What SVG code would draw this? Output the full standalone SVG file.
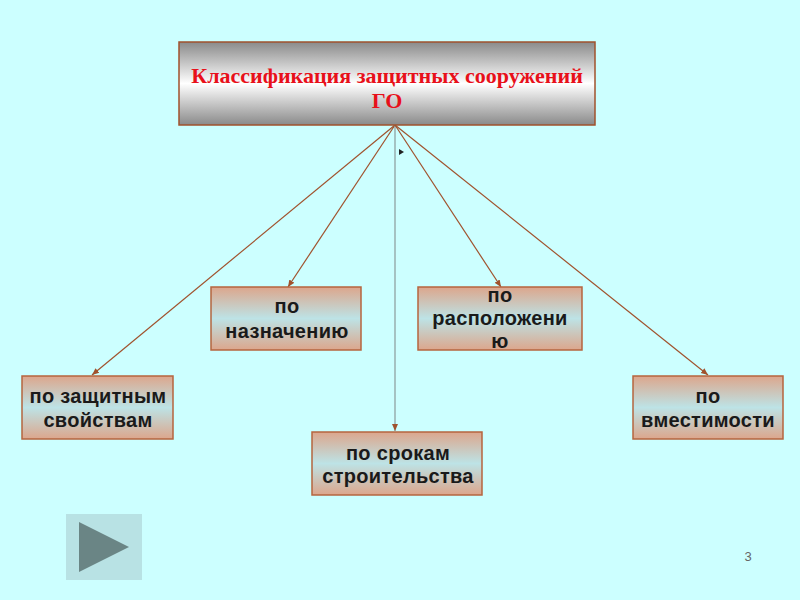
<svg xmlns="http://www.w3.org/2000/svg" width="800" height="600" viewBox="0 0 800 600">
<defs>
<linearGradient id="gTop" x1="0" y1="0" x2="0" y2="1">
<stop offset="0" stop-color="#8a8a8a"/>
<stop offset="0.5" stop-color="#ffffff"/>
<stop offset="1" stop-color="#8a8a8a"/>
</linearGradient>
<linearGradient id="gNode" x1="0" y1="0" x2="0" y2="1">
<stop offset="0" stop-color="#dca68c"/>
<stop offset="0.5" stop-color="#bde3e6"/>
<stop offset="1" stop-color="#dca68c"/>
</linearGradient>
<marker id="arr" markerWidth="8" markerHeight="8" refX="7" refY="4" orient="auto" markerUnits="userSpaceOnUse">
<path d="M0,1 L7,4 L0,7 Z" fill="#a0522d"/>
</marker>
</defs>
<style>
.node rect { fill: url(#gNode); stroke: #b5653f; stroke-width: 1.5; }
.lbl { font-family: "Liberation Sans", Arial, sans-serif; font-weight: bold; font-size: 20px; letter-spacing: 0.3px; fill: #1a1a1a; text-anchor: middle; }
.title { font-family: "Liberation Serif", "Times New Roman", serif; font-weight: bold; font-size: 22px; fill: #e8101a; text-anchor: middle; }
.con { stroke: #a0522d; stroke-width: 1.2; fill: none; marker-end: url(#arr); }
</style>
<rect x="0" y="0" width="800" height="600" fill="#ccffff"/>
<g id="connectors">
<line class="con" x1="395" y1="125" x2="92" y2="375"/>
<line class="con" x1="395" y1="125" x2="288" y2="287"/>
<line class="con" x1="395" y1="125" x2="395" y2="431" style="stroke:#8a9a9a"/>
<line class="con" x1="395" y1="125" x2="501" y2="287"/>
<line class="con" x1="395" y1="125" x2="708" y2="375"/>
<polygon points="399,149 404,152 399,155" fill="#222"/>
</g>
<g id="title">
<rect x="179" y="42" width="416" height="83" fill="url(#gTop)" stroke="#a0522d" stroke-width="1.5"/>
<text class="title" x="387" y="83">Классификация защитных сооружений</text>
<text class="title" x="387" y="108">ГО</text>
</g>
<g id="n1" class="node">
<rect x="22" y="376" width="151" height="63"/>
<text class="lbl" x="98" y="403">по защитным</text>
<text class="lbl" x="98" y="427">свойствам</text>
</g>
<g id="n2" class="node">
<rect x="211" y="287" width="150" height="63"/>
<text class="lbl" x="287" y="313">по</text>
<text class="lbl" x="287" y="338">назначению</text>
</g>
<g id="n3" class="node">
<rect x="418" y="287" width="164" height="63"/>
<text class="lbl" x="500" y="302">по</text>
<text class="lbl" x="500" y="325">расположени</text>
<text class="lbl" x="500" y="348">ю</text>
</g>
<g id="n4" class="node">
<rect x="312" y="432" width="170" height="63"/>
<text class="lbl" x="398" y="460">по срокам</text>
<text class="lbl" x="398" y="483">строительства</text>
</g>
<g id="n5" class="node">
<rect x="633" y="376" width="150" height="63"/>
<text class="lbl" x="708" y="403">по</text>
<text class="lbl" x="708" y="427">вместимости</text>
</g>
<g id="button">
<rect x="66" y="514" width="76" height="66" fill="#b8e2e4"/>
<polygon points="79,522 129,547 79,572" fill="#6a8585"/>
</g>
<text x="748" y="561" font-family="Liberation Sans, Arial, sans-serif" font-size="13" fill="#666" text-anchor="middle">3</text>
</svg>
